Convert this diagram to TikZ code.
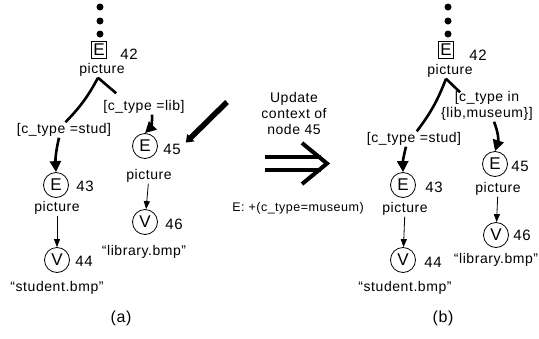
\documentclass[tikz,border=0pt]{standalone}
\usepackage{fontspec}
\setmainfont{Liberation Sans}[LetterSpace=4]
\usetikzlibrary{arrows.meta}

\tikzset{
    cnode/.style={circle,draw,line width=0.8pt,minimum size=25pt,inner sep=0pt,font=\fontsize{17}{19}\selectfont},
    bnode/.style={rectangle,draw,line width=0.8pt,minimum width=15pt,minimum height=17pt,inner sep=1pt,font=\fontsize{17}{19}\selectfont},
    num/.style={inner sep=1pt,font=\fontsize{15}{17}\selectfont},
    txt/.style={inner sep=1pt,font=\fontsize{14}{16}\selectfont},
    capt/.style={inner sep=1pt,font=\fontsize{16}{18}\selectfont},
    dot/.style={circle,fill,inner sep=0pt,minimum size=7pt},
    branch/.style={line width=2.6pt},
    branchto/.style={line width=2.6pt,-{Triangle[width=11pt,length=11pt]}},
    thinto/.style={line width=0.8pt,-{Triangle[width=6pt,length=8pt]}}
}

\begin{document}
\begin{tikzpicture}[x=1pt,y=-1pt]
    \useasboundingbox (0,0) rectangle (539,338);
    % left tree (a)
    \foreach \y in {7,21,34}
        \node[dot] (la\y) at (100,\y) {};
    \node[bnode] (E42) at (99,50) {E};
    \node[num] (n42) at (129,54) {42};
    \node[txt] (pic42) at (102,70) {picture};
    \node[txt] (stud) at (64,130) {[c\_type =stud]};
    \node[txt] (lib) at (144,107) {[c\_type =lib]};
    \node[cnode] (E43) at (56,185) {E};
    \node[num] (n43) at (85,186) {43};
    \node[txt] (pic43) at (57,208) {picture};
    \node[cnode] (V44) at (57,260) {V};
    \node[num] (n44) at (84,261) {44};
    \node[txt] (str44) at (57,288) {“student.bmp”};
    \node[cnode] (E45) at (145,146) {E};
    \node[num] (n45) at (172,149) {45};
    \node[txt] (pic45) at (149,176) {picture};
    \node[cnode] (V46) at (145,222) {V};
    \node[num] (n46) at (174,224) {46};
    \node[txt] (str46) at (144,252) {“library.bmp”};
    \node[capt] (capa) at (121,318) {(a)};
    \draw[branch] ([xshift=-4pt]pic42.south) to[bend left=8] (stud.80);
    \draw[branchto] ([xshift=-5pt]stud.south) to[bend right=8] (E43.north);
    \draw[branch] ([xshift=-4pt]pic42.south) -- ([xshift=14pt,yshift=6pt]lib.north west);
    \draw[branchto] ([xshift=8pt]lib.south) to[bend left=25] (E45.north);
    \draw[thinto] (pic43) -- (V44);
    \draw[thinto] (pic45) -- (V46);
    \coordinate (hint) at (227,102);
    \draw[line width=5.5pt,-{Triangle[width=10pt,length=7pt]}] (hint) -- ([xshift=4pt]n45.north east);
    % update in the middle
    \node[txt,align=center] (upd) at (294,113) {Update\\[0pt]context of\\[0pt]node 45};
    \draw[line width=4pt] (265,157) -- (321,157) (265,170) -- (321,170);
    \draw[line width=4pt] (302,143) -- (327,163.5) -- (302,184);
    \node[txt,font=\fontsize{12.5}{15}\selectfont] (ctx) at (298,208) {E: +(c\_type=museum)};
    % right tree (b)
    \foreach \y in {7,21,34}
        \node[dot] (lb\y) at (448,\y) {};
    \node[bnode] (E42r) at (446,50) {E};
    \node[num] (n42r) at (478,55) {42};
    \node[txt] (pic42r) at (450,71) {picture};
    \node[txt] (studr) at (414,139) {[c\_type =stud]};
    \node[txt,align=center] (inr) at (487,106) {[c\_type in\\[0pt]\{lib,museum\}]};
    \node[cnode] (E43r) at (403,185) {E};
    \node[num] (n43r) at (434,187) {43};
    \node[txt] (pic43r) at (405,209) {picture};
    \node[cnode] (V44r) at (403,260) {V};
    \node[num] (n44r) at (433,262) {44};
    \node[txt] (str44r) at (405,288) {“student.bmp”};
    \node[cnode] (E45r) at (495,164) {E};
    \node[num] (n45r) at (520,166) {45};
    \node[txt] (pic45r) at (498,189) {picture};
    \node[cnode] (V46r) at (496,235) {V};
    \node[num] (n46r) at (522,235) {46};
    \node[txt] (str46r) at (496,260) {“library.bmp”};
    \node[capt] (capb) at (443,318) {(b)};
    \draw[branch] ([xshift=-4pt]pic42r.south) to[bend left=8] (studr.70);
    \draw[branchto] ([xshift=-8pt]studr.south) to[bend right=8] (E43r.north);
    \draw[branch] ([xshift=-4pt]pic42r.south) -- ([xshift=20pt,yshift=-2pt]inr.north west);
    \draw[branchto] ([xshift=7pt]inr.south) to[bend left=20] (E45r.north);
    \draw[thinto] (pic43r) -- (V44r);
    \draw[thinto] (pic45r) -- (V46r);
\end{tikzpicture}
\end{document}
